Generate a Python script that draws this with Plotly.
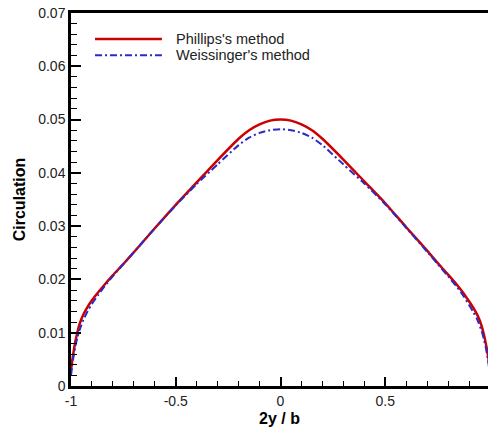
import plotly.graph_objects as go

# Spanwise station 2y/b
x_phillips = [-1.0, -0.995, -0.99, -0.98, -0.97, -0.96, -0.94, -0.92, -0.9, -0.87, -0.84, -0.8, -0.75, -0.7,
              -0.6, -0.5, -0.4, -0.3, -0.2, -0.15, -0.1, -0.05, 0.0,
              0.05, 0.1, 0.15, 0.2, 0.3, 0.4, 0.5, 0.6, 0.7, 0.75, 0.8, 0.84, 0.87, 0.9, 0.92, 0.94, 0.96,
              0.97, 0.98, 0.99, 0.995, 1.0]
y_phillips = [0.0030, 0.0045, 0.0058, 0.0082, 0.0100, 0.0115, 0.0135, 0.0149, 0.0161, 0.0176, 0.0190, 0.0208, 0.0229, 0.0251,
              0.0296, 0.0340, 0.0382, 0.0424, 0.0464, 0.0480, 0.0491, 0.0498, 0.0500,
              0.0498, 0.0491, 0.0480, 0.0464, 0.0425, 0.0384, 0.0343, 0.0298, 0.0254, 0.0231, 0.0209, 0.0191, 0.0176, 0.0159, 0.0147, 0.0133, 0.0113,
              0.0098, 0.0080, 0.0058, 0.0045, 0.0030]

x_weissinger = x_phillips
y_weissinger = [0.0020, 0.0036, 0.0050, 0.0073, 0.0090, 0.0104, 0.0125, 0.0141, 0.0154, 0.0171, 0.0187, 0.0206, 0.0229, 0.0251,
                0.0296, 0.0339, 0.0379, 0.0416, 0.0452, 0.0466, 0.0475, 0.0480, 0.0482,
                0.0480, 0.0475, 0.0466, 0.0452, 0.0416, 0.0380, 0.0341, 0.0297, 0.0252, 0.0229, 0.0206, 0.0187, 0.0171, 0.0152, 0.0139, 0.0124, 0.0103,
                0.0089, 0.0072, 0.0050, 0.0036, 0.0020]

x_tick_vals = [-1, -0.5, 0, 0.5]
x_tick_text = ["-1", "-0.5", "0", "0.5"]
y_tick_vals = [0, 0.01, 0.02, 0.03, 0.04, 0.05, 0.06, 0.07]
y_tick_text = ["0", "0.01", "0.02", "0.03", "0.04", "0.05", "0.06", "0.07"]

series_names = ["Phillips's method", "Weissinger's method"]
series_colors = ["#cc0000", "#2a2ac8"]

FONT = "Liberation Sans, Arial, sans-serif"

fig = go.Figure()
fig.add_trace(go.Scatter(x=x_phillips, y=y_phillips, mode="lines", name=series_names[0],
                         line=dict(color=series_colors[0], width=2.5, shape="spline", smoothing=0.6),
                         showlegend=False))
fig.add_trace(go.Scatter(x=x_weissinger, y=y_weissinger, mode="lines", name=series_names[1],
                         line=dict(color=series_colors[1], width=2, dash="7px,3px,2px,3px",
                                   shape="spline", smoothing=0.6),
                         showlegend=False))

# manual legend (Tecplot style)
leg_y = [0.930, 0.887]
for i in range(2):
    fig.add_shape(type="line", xref="paper", yref="paper", x0=0.0576, x1=0.218, y0=leg_y[i], y1=leg_y[i],
                  line=dict(color=series_colors[i], width=2.5 if i == 0 else 2,
                            dash="solid" if i == 0 else "7px,3px,2px,3px"))
    fig.add_annotation(xref="paper", yref="paper", x=0.246, y=leg_y[i], text=series_names[i],
                       showarrow=False, xanchor="left", yanchor="middle",
                       font=dict(family=FONT, size=14.5, color="#222"))

fig.update_layout(
    width=488, height=430,
    margin=dict(l=71, r=0, t=13, b=44, autoexpand=False),
    paper_bgcolor="white", plot_bgcolor="white",
    font=dict(family=FONT, size=14, color="#222"),
    xaxis=dict(range=[-1, 0.9905], tickvals=x_tick_vals, ticktext=x_tick_text, ticks="inside", ticklen=9,
               tickwidth=2, tickcolor="black", showline=True, linewidth=2.5, linecolor="black", mirror=True,
               showgrid=False, zeroline=False, automargin=False, tickfont=dict(size=14),
               minor=dict(ticks="inside", ticklen=5, tickwidth=1.2, tickcolor="black", tick0=-1, dtick=0.1,
                          showgrid=False),
               title=dict(text="<b>2y / b</b>", font=dict(family=FONT, size=16, color="black"), standoff=6)),
    yaxis=dict(range=[0, 0.07], tickvals=y_tick_vals, ticktext=y_tick_text, ticks="inside", ticklen=10,
               tickwidth=2, tickcolor="black", showline=True, linewidth=2.5, linecolor="black", mirror=False,
               showgrid=False, zeroline=False, automargin=False, tickfont=dict(size=14),
               minor=dict(ticks="inside", ticklen=6, tickwidth=1.2, tickcolor="black", tick0=0, dtick=0.002,
                          showgrid=False),
               title=dict(text="<b>Circulation</b>", font=dict(family=FONT, size=16, color="black"), standoff=9)),
)

fig.write_html("out.html")
